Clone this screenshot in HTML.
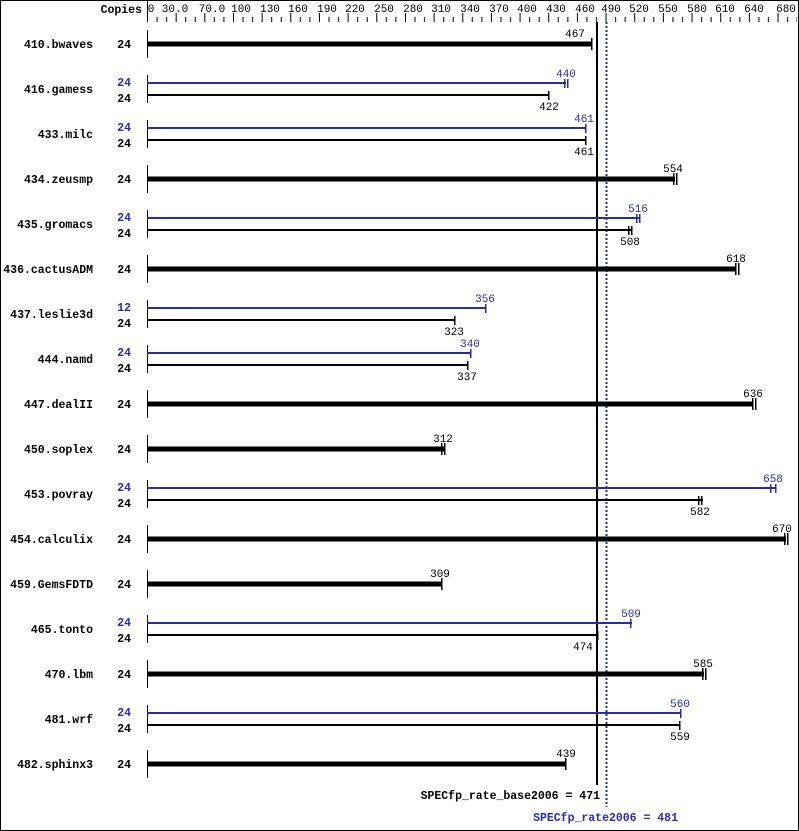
<!DOCTYPE html>
<html><head><style>
body{margin:0;background:#fff}
svg{display:block}
text{font-family:"Liberation Mono","DejaVu Sans Mono",monospace;font-size:11px}
.b{font-weight:bold;font-size:11.5px}
.bl{fill:#2b2ba8}
</style></head><body>
<svg width="799" height="831" xmlns="http://www.w3.org/2000/svg">
<defs>
<pattern id="tk" x="147" y="0" width="28.66" height="30" patternUnits="userSpaceOnUse">
<rect x="0" y="13" width="1" height="9" fill="#000"/>
<rect x="9.55" y="17" width="1" height="5" fill="#000"/>
<rect x="19.1" y="17" width="1" height="5" fill="#000"/>
</pattern>
</defs>
<rect x="0.5" y="0.5" width="798" height="830" fill="#fff" stroke="#000"/>
<rect x="147" y="0" width="650" height="22" fill="url(#tk)"/>
<rect x="147" y="0" width="1" height="22" fill="#000"/>
<text class="b" x="142" y="13" text-anchor="end">Copies</text>
<g text-anchor="middle">
<text x="151" y="12">0</text><text x="175" y="12">30.0</text><text x="212" y="12">70.0</text><text x="241" y="12">100</text><text x="270" y="12">130</text><text x="298" y="12">160</text><text x="327" y="12">190</text><text x="355" y="12">220</text><text x="384" y="12">250</text><text x="413" y="12">280</text><text x="441" y="12">310</text><text x="470" y="12">340</text><text x="499" y="12">370</text><text x="527" y="12">400</text><text x="556" y="12">430</text><text x="585" y="12">460</text><text x="611" y="12">490</text><text x="639" y="12">520</text><text x="668" y="12">550</text><text x="697" y="12">580</text><text x="725" y="12">610</text><text x="754" y="12">640</text><text x="786" y="12">680</text>
</g>

<line x1="597" y1="22" x2="597" y2="785" stroke="#000" stroke-width="2"/>
<line x1="606.5" y1="22" x2="606.5" y2="807" stroke="#2b2ba8" stroke-width="2" stroke-dasharray="2,2"/>

<g class="b" text-anchor="end">
<text class="b" x="93" y="48">410.bwaves</text>
<text class="b" x="93" y="93">416.gamess</text>
<text class="b" x="93" y="138">433.milc</text>
<text class="b" x="93" y="183">434.zeusmp</text>
<text class="b" x="93" y="228">435.gromacs</text>
<text class="b" x="93" y="273">436.cactusADM</text>
<text class="b" x="93" y="318">437.leslie3d</text>
<text class="b" x="93" y="363">444.namd</text>
<text class="b" x="93" y="408">447.dealII</text>
<text class="b" x="93" y="453">450.soplex</text>
<text class="b" x="93" y="498">453.povray</text>
<text class="b" x="93" y="543">454.calculix</text>
<text class="b" x="93" y="588">459.GemsFDTD</text>
<text class="b" x="93" y="633">465.tonto</text>
<text class="b" x="93" y="678">470.lbm</text>
<text class="b" x="93" y="723">481.wrf</text>
<text class="b" x="93" y="768">482.sphinx3</text>
</g>
<g text-anchor="end">
<text class="b" x="131" y="48">24</text>
<text class="b bl" x="131" y="86">24</text><text class="b" x="131" y="102">24</text>
<text class="b bl" x="131" y="131">24</text><text class="b" x="131" y="147">24</text>
<text class="b" x="131" y="183">24</text>
<text class="b bl" x="131" y="221">24</text><text class="b" x="131" y="237">24</text>
<text class="b" x="131" y="273">24</text>
<text class="b bl" x="131" y="311">12</text><text class="b" x="131" y="327">24</text>
<text class="b bl" x="131" y="356">24</text><text class="b" x="131" y="372">24</text>
<text class="b" x="131" y="408">24</text>
<text class="b" x="131" y="453">24</text>
<text class="b bl" x="131" y="491">24</text><text class="b" x="131" y="507">24</text>
<text class="b" x="131" y="543">24</text>
<text class="b" x="131" y="588">24</text>
<text class="b bl" x="131" y="626">24</text><text class="b" x="131" y="642">24</text>
<text class="b" x="131" y="678">24</text>
<text class="b bl" x="131" y="716">24</text><text class="b" x="131" y="732">24</text>
<text class="b" x="131" y="768">24</text>
</g>

<g fill="#000">
<rect x="147" y="30" width="1" height="28"/><rect x="147" y="75" width="1" height="28"/><rect x="147" y="120" width="1" height="28"/><rect x="147" y="165" width="1" height="28"/><rect x="147" y="210" width="1" height="28"/><rect x="147" y="255" width="1" height="28"/><rect x="147" y="300" width="1" height="28"/><rect x="147" y="345" width="1" height="28"/><rect x="147" y="390" width="1" height="28"/><rect x="147" y="435" width="1" height="28"/><rect x="147" y="480" width="1" height="28"/><rect x="147" y="525" width="1" height="28"/><rect x="147" y="570" width="1" height="28"/><rect x="147" y="615" width="1" height="28"/><rect x="147" y="660" width="1" height="28"/><rect x="147" y="705" width="1" height="28"/><rect x="147" y="750" width="1" height="28"/>
</g>

<g fill="#000" text-anchor="middle">
<rect x="147" y="41.5" width="445" height="5"/><rect x="591" y="38" width="1.5" height="12"/><text x="575" y="37">467</text>
<rect x="147" y="176.5" width="528" height="5"/><rect x="673" y="173" width="1.5" height="12"/><rect x="676" y="173" width="1.5" height="12"/><text x="673" y="172">554</text>
<rect x="147" y="266.5" width="589" height="5"/><rect x="735" y="263" width="1.5" height="12"/><rect x="738" y="263" width="1.5" height="12"/><text x="736" y="262">618</text>
<rect x="147" y="401.5" width="606" height="5"/><rect x="752" y="398" width="1.5" height="12"/><rect x="755" y="398" width="1.5" height="12"/><text x="753" y="397">636</text>
<rect x="147" y="446.5" width="297" height="5"/><rect x="441" y="443" width="1.5" height="12"/><rect x="444" y="443" width="1.5" height="12"/><text x="443" y="442">312</text>
<rect x="147" y="536.5" width="639" height="5"/><rect x="784" y="533" width="1.5" height="12"/><rect x="787" y="533" width="1.5" height="12"/><text x="782" y="532">670</text>
<rect x="147" y="581.5" width="294" height="5"/><rect x="441" y="578" width="1.5" height="12"/><text x="440" y="577">309</text>
<rect x="147" y="671.5" width="557" height="5"/><rect x="702" y="668" width="1.5" height="12"/><rect x="705" y="668" width="1.5" height="12"/><text x="703" y="667">585</text>
<rect x="147" y="761.5" width="419" height="5"/><rect x="565" y="758" width="1.5" height="12"/><text x="566" y="757">439</text>
</g>

<g text-anchor="middle">
<rect x="147" y="82" width="419" height="2" fill="#2b2ba8"/><rect x="564" y="79" width="1.5" height="9" fill="#2b2ba8"/><rect x="567" y="79" width="1.5" height="9" fill="#2b2ba8"/><text class="bl" x="566" y="77">440</text>
<rect x="147" y="94" width="402" height="2" fill="#000"/><rect x="548" y="91" width="1.5" height="9" fill="#000"/><text x="549" y="110">422</text>
<rect x="147" y="127" width="439" height="2" fill="#2b2ba8"/><rect x="585" y="124" width="1.5" height="9" fill="#2b2ba8"/><text class="bl" x="584" y="122">461</text>
<rect x="147" y="139" width="439" height="2" fill="#000"/><rect x="585" y="136" width="1.5" height="9" fill="#000"/><text x="584" y="155">461</text>
<rect x="147" y="217" width="492" height="2" fill="#2b2ba8"/><rect x="636" y="214" width="1.5" height="9" fill="#2b2ba8"/><rect x="639" y="214" width="1.5" height="9" fill="#2b2ba8"/><text class="bl" x="638" y="212">516</text>
<rect x="147" y="229" width="484" height="2" fill="#000"/><rect x="628" y="226" width="1.5" height="9" fill="#000"/><rect x="631" y="226" width="1.5" height="9" fill="#000"/><text x="630" y="245">508</text>
<rect x="147" y="307" width="339" height="2" fill="#2b2ba8"/><rect x="485" y="304" width="1.5" height="9" fill="#2b2ba8"/><text class="bl" x="485" y="302">356</text>
<rect x="147" y="319" width="308" height="2" fill="#000"/><rect x="454" y="316" width="1.5" height="9" fill="#000"/><text x="454" y="335">323</text>
<rect x="147" y="352" width="324" height="2" fill="#2b2ba8"/><rect x="470" y="349" width="1.5" height="9" fill="#2b2ba8"/><text class="bl" x="470" y="347">340</text>
<rect x="147" y="364" width="321" height="2" fill="#000"/><rect x="467" y="361" width="1.5" height="9" fill="#000"/><text x="467" y="380">337</text>
<rect x="147" y="487" width="628" height="2" fill="#2b2ba8"/><rect x="770" y="484" width="1.5" height="9" fill="#2b2ba8"/><rect x="775" y="484" width="1.5" height="9" fill="#2b2ba8"/><text class="bl" x="773" y="482">658</text>
<rect x="147" y="499" width="556" height="2" fill="#000"/><rect x="698" y="496" width="1.5" height="9" fill="#000"/><rect x="701" y="496" width="1.5" height="9" fill="#000"/><text x="700" y="515">582</text>
<rect x="147" y="622" width="485" height="2" fill="#2b2ba8"/><rect x="630" y="619" width="1.5" height="9" fill="#2b2ba8"/><text class="bl" x="631" y="617">509</text>
<rect x="147" y="634" width="451" height="2" fill="#000"/><rect x="597" y="631" width="1.5" height="9" fill="#000"/><text x="583" y="650">474</text>
<rect x="147" y="712" width="534" height="2" fill="#2b2ba8"/><rect x="680" y="709" width="1.5" height="9" fill="#2b2ba8"/><text class="bl" x="680" y="707">560</text>
<rect x="147" y="724" width="533" height="2" fill="#000"/><rect x="679" y="721" width="1.5" height="9" fill="#000"/><text x="680" y="740">559</text>
</g>

<text class="b" x="600" y="799" text-anchor="end">SPECfp_rate_base2006 = 471</text>
<text class="b bl" x="678" y="821" text-anchor="end">SPECfp_rate2006 = 481</text>
</svg>
</body></html>
